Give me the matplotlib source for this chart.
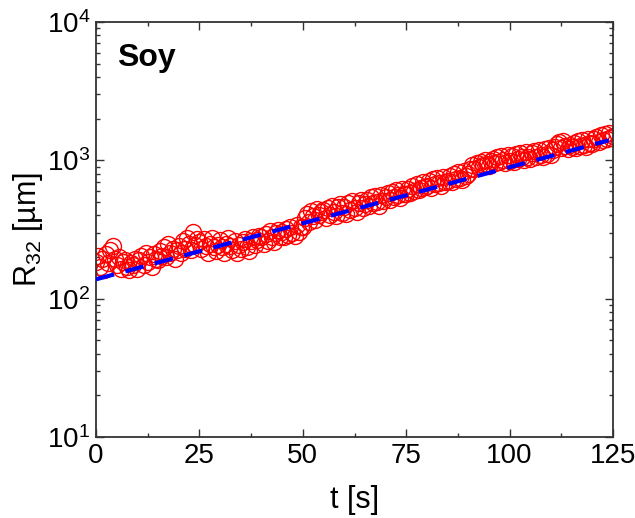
import numpy as np
import matplotlib
matplotlib.use("Agg")
import matplotlib.pyplot as plt
from matplotlib.ticker import MultipleLocator, LogLocator, FixedLocator, NullFormatter

plt.rcParams['font.family'] = ['Liberation Sans', 'DejaVu Sans']
plt.rcParams['mathtext.fontset'] = 'custom'
plt.rcParams['mathtext.rm'] = 'Liberation Sans'
plt.rcParams['mathtext.it'] = 'Liberation Sans:italic'
plt.rcParams['mathtext.bf'] = 'Liberation Sans:bold'

# ---- data ----
t_start, t_step = 0.0, 0.5
R32 = [
    185, 205, 170, 195, 160, 210, 180, 225, 240, 195,
    175, 200, 165, 185, 190, 170, 160, 180, 175, 195,
    165, 190, 205, 175, 215, 185, 200, 170, 210, 195,
    190, 220, 205, 235, 200, 250, 215, 230, 195, 225,
    240, 215, 260, 230, 275, 250, 225, 305, 245, 270,
    255, 230, 270, 240, 215, 250, 275, 235, 220, 245,
    265, 235, 215, 250, 275, 240, 225, 260, 215, 245,
    230, 255, 270, 235, 220, 260, 280, 245, 265, 285,
    280, 250, 295, 260, 310, 280, 255, 300, 315, 280,
    305, 280, 320, 290, 330, 300, 285, 340, 305, 330,
    330, 385, 410, 360, 430, 395, 370, 445, 400, 425,
    440, 385, 455, 405, 470, 420, 395, 460, 480, 415,
    460, 410, 490, 435, 505, 450, 420, 495, 520, 455,
    480, 520, 465, 540, 495, 555, 500, 470, 560, 510,
    540, 580, 515, 595, 545, 610, 560, 530, 620, 575,
    570, 625, 580, 655, 600, 680, 610, 635, 700, 640,
    655, 710, 630, 730, 670, 750, 690, 650, 760, 700,
    710, 770, 700, 800, 735, 820, 750, 715, 840, 775,
    790, 860, 920, 870, 960, 900, 980, 930, 1000, 940,
    910, 990, 1030, 950, 1060, 980, 1070, 1000, 950, 1090,
    990, 1080, 970, 1110, 1020, 1130, 1050, 1000, 1150, 1060,
    1030, 1130, 1160, 1050, 1190, 1090, 1060, 1200, 1110, 1220,
    1090, 1180, 1240, 1310, 1350, 1230, 1370, 1270, 1200, 1300,
    1240, 1340, 1220, 1380, 1270, 1400, 1300, 1250, 1420, 1330,
    1320, 1420, 1480, 1350, 1520, 1400, 1550, 1420, 1580, 1460, 1500,
]
t = t_start + t_step * np.arange(len(R32))

fit_t = [0, 124]
fit_R = [138, 1395]

x_ticks = [0, 25, 50, 75, 100, 125]
y_ticks = [1e1, 1e2, 1e3, 1e4]
y_labels = ['10$^{1}$', '10$^{2}$', '10$^{3}$', '10$^{4}$']

# ---- figure ----
fig = plt.figure(figsize=(6.35, 5.18), dpi=100)
ax = fig.add_axes([96/635, 1-437/518, (613-96)/635, (437-22)/518])

ax.plot(t, R32, 'o', ms=11.5, mfc='none', mec='#ff0000', mew=1.0, zorder=2)
ax.plot(fit_t, fit_R, '--', color='#0000ff', lw=3.0, dashes=(4.5, 2.8), zorder=3)

ax.set_yscale('log')
ax.set_xlim(0, 125)
ax.set_ylim(10, 1e4)

ax.xaxis.set_major_locator(FixedLocator(x_ticks))
ax.xaxis.set_minor_locator(MultipleLocator(12.5))
ax.set_xticklabels([str(v) for v in x_ticks])
ax.yaxis.set_major_locator(FixedLocator(y_ticks))
ax.set_yticklabels(y_labels)
ax.yaxis.set_minor_locator(LogLocator(base=10, subs=np.arange(2, 10)))
ax.yaxis.set_minor_formatter(NullFormatter())

ax.tick_params(which='both', direction='in', top=True, right=True,
               labelsize=20, colors='#333333', labelcolor='black', width=1.0)
ax.tick_params(which='major', length=6, pad=4)
ax.tick_params(which='minor', length=3)
for s in ax.spines.values():
    s.set_linewidth(1.3)
    s.set_color('#333333')

ax.set_xlabel('t [s]', fontsize=22, labelpad=12)
ax.set_ylabel('R$_{32}$ [µm]', fontsize=22)
ax.yaxis.set_label_coords(-0.098, 0.5)
ax.text(0.04, 0.95, 'Soy', transform=ax.transAxes, fontsize=23,
        fontweight='bold', va='top', ha='left')

fig.savefig('out.png', dpi=100)
